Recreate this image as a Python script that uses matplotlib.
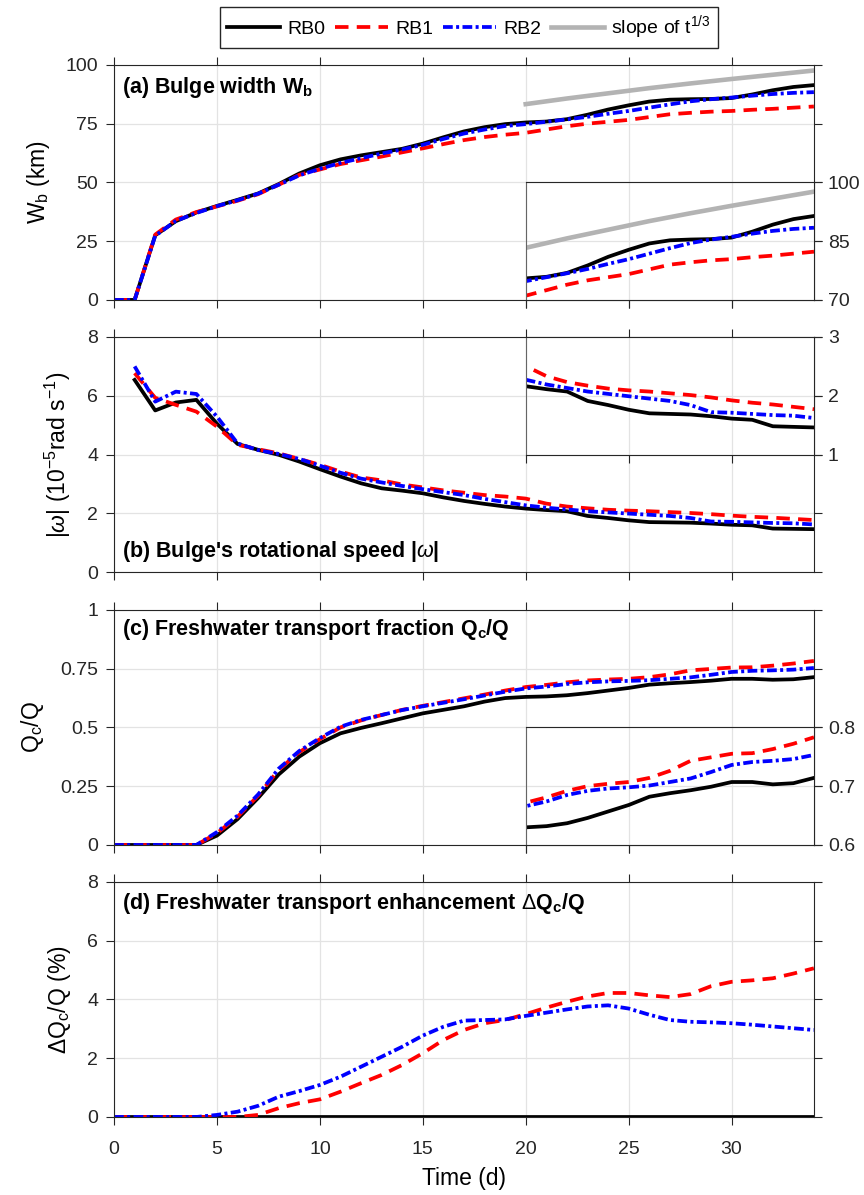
import numpy as np
import matplotlib
matplotlib.use('Agg')
import matplotlib.pyplot as plt

plt.rcParams['font.family'] = ['Liberation Sans', 'DejaVu Sans']
plt.rcParams['mathtext.fontset'] = 'custom'
plt.rcParams['mathtext.rm'] = 'Liberation Sans'
plt.rcParams['mathtext.it'] = 'Liberation Sans:italic'
plt.rcParams['mathtext.bf'] = 'Liberation Sans:bold'
plt.rcParams['axes.edgecolor'] = '#262626'
plt.rcParams['xtick.color'] = '#262626'
plt.rcParams['ytick.color'] = '#262626'

days = np.arange(0, 35)
nan = np.nan

# (a) bulge width (km)
wb_rb0 = [0, 0, 27.5, 33.5, 37.2, 40.0, 42.6, 45.3, 49.3, 53.8, 57.3, 59.8, 61.5, 62.9, 64.3, 66.5,
          69.2, 71.7, 73.5, 74.8, 75.5, 75.9, 76.9, 78.8, 81.0, 82.8, 84.4, 85.2, 85.4, 85.5, 85.9,
          87.4, 89.2, 90.6, 91.4]
wb_rb1 = [0, 0, 27.8, 34.2, 37.4, 39.8, 42.2, 45.0, 49.0, 53.2, 55.5, 57.8, 59.4, 61.0, 62.8, 64.5,
          66.3, 68.0, 69.3, 70.3, 71.1, 72.5, 73.9, 75.0, 75.8, 76.6, 77.8, 79.0, 79.6, 80.1, 80.4,
          80.9, 81.3, 81.8, 82.3]
wb_rb2 = [0, 0, 27.3, 33.6, 37.0, 39.9, 42.4, 45.2, 49.0, 53.0, 55.8, 58.3, 60.3, 62.3, 64.0, 66.0,
          68.5, 70.8, 72.5, 74.0, 74.8, 75.8, 76.8, 77.9, 79.2, 80.4, 81.8, 83.2, 84.5, 85.4, 86.1,
          86.9, 87.6, 88.1, 88.4]
slope_days = [20, 22, 24, 26, 28, 30, 32, 34]
slope_wb = [83.3, 85.7, 87.9, 90.1, 92.1, 94.0, 95.8, 97.6]

# (b) rotational speed (1e-5 rad/s)
om_rb0 = [nan, 6.54, 5.50, 5.77, 5.86, 5.05, 4.36, 4.16, 3.99, 3.76, 3.50, 3.25, 3.02, 2.85, 2.77,
          2.68, 2.54, 2.42, 2.32, 2.23, 2.16, 2.11, 2.07, 1.91, 1.84, 1.76, 1.70, 1.69, 1.68, 1.65,
          1.61, 1.59, 1.48, 1.47, 1.46]
om_rb1 = [nan, 6.77, 5.93, 5.69, 5.46, 4.95, 4.33, 4.18, 4.04, 3.85, 3.65, 3.42, 3.22, 3.12, 2.98,
          2.88, 2.78, 2.70, 2.62, 2.57, 2.50, 2.33, 2.23, 2.17, 2.12, 2.09, 2.07, 2.04, 2.01, 1.97,
          1.92, 1.88, 1.85, 1.81, 1.77]
om_rb2 = [nan, 7.00, 5.80, 6.14, 6.06, 5.29, 4.38, 4.15, 4.02, 3.85, 3.62, 3.38, 3.18, 3.05, 2.93,
          2.82, 2.72, 2.62, 2.49, 2.38, 2.27, 2.19, 2.13, 2.07, 2.03, 1.99, 1.95, 1.91, 1.84, 1.72,
          1.71, 1.69, 1.67, 1.66, 1.62]

# (c) freshwater transport fraction
qc_rb0 = [0, 0, 0, 0, 0, 0.04, 0.11, 0.20, 0.30, 0.376, 0.433, 0.475, 0.498, 0.518, 0.539, 0.560,
          0.575, 0.590, 0.610, 0.625, 0.630, 0.632, 0.637, 0.646, 0.657, 0.668, 0.682, 0.688, 0.693,
          0.699, 0.707, 0.707, 0.703, 0.705, 0.714]
qc_rb1 = [0, 0, 0, 0, 0, 0.05, 0.12, 0.21, 0.32, 0.395, 0.450, 0.500, 0.530, 0.553, 0.575, 0.592,
          0.608, 0.624, 0.640, 0.657, 0.672, 0.681, 0.692, 0.700, 0.704, 0.707, 0.714, 0.726, 0.743,
          0.749, 0.755, 0.756, 0.763, 0.772, 0.783]
qc_rb2 = [0, 0, 0, 0, 0, 0.055, 0.125, 0.215, 0.325, 0.400, 0.455, 0.503, 0.532, 0.553, 0.574, 0.590,
          0.605, 0.620, 0.636, 0.652, 0.666, 0.674, 0.685, 0.692, 0.696, 0.698, 0.701, 0.707, 0.713,
          0.724, 0.736, 0.741, 0.743, 0.746, 0.753]

# (d) freshwater transport enhancement (%)
dq_rb0 = [0] * 35
dq_rb1 = [0, 0, 0, 0, 0, 0, 0, 0.07, 0.30, 0.47, 0.60, 0.86, 1.15, 1.43, 1.77, 2.17, 2.62, 2.96, 3.19,
          3.30, 3.50, 3.72, 3.92, 4.10, 4.22, 4.22, 4.14, 4.08, 4.18, 4.45, 4.60, 4.65, 4.72, 4.88, 5.06]
dq_rb2 = [0, 0, 0, 0, 0, 0.07, 0.18, 0.38, 0.69, 0.88, 1.09, 1.37, 1.71, 2.05, 2.39, 2.77, 3.07, 3.28,
          3.30, 3.32, 3.44, 3.55, 3.66, 3.76, 3.80, 3.69, 3.48, 3.30, 3.24, 3.22, 3.19, 3.14, 3.08,
          3.02, 2.96]

runs = ['RB0', 'RB1', 'RB2']
styles = {
    'RB0': dict(color='black', linestyle='-'),
    'RB1': dict(color='#ff0000', linestyle=(0, (3.6, 2.2))),
    'RB2': dict(color='#0000ff', linestyle=(0, (2.6, 0.9, 0.8, 0.9))),
}
LW = 2.7
GRAY = '#b3b3b3'
TICK_FS = 14
LABEL_FS = 16.5
TITLE_FS = 15.5

fig = plt.figure(figsize=(8.64, 11.95), dpi=100)
L, W = 0.132, 0.810
bottoms = [0.749, 0.5213, 0.2929, 0.0653]
H = 0.1967


def style_axes(ax):
    ax.set_axisbelow(True)
    ax.grid(True, color='#e3e3e3', linewidth=0.9)
    ax.tick_params(direction='out', top=True, right=True, length=5.5, width=0.8,
                   labelsize=TICK_FS)
    ax.tick_params(axis='x', pad=12)
    ax.tick_params(axis='y', pad=6)
    for s in ax.spines.values():
        s.set_linewidth(0.8)


def draw_runs(ax, series):
    for run, y in zip(runs, series):
        ax.plot(days, y, lw=LW, label=run, **styles[run])


axes = [fig.add_axes([L, b, W, H]) for b in bottoms]

panels = [
    ((wb_rb0, wb_rb1, wb_rb2), (0, 100), [0, 25, 50, 75, 100], 'W$_\\mathrm{b}$ (km)'),
    ((om_rb0, om_rb1, om_rb2), (0, 8), [0, 2, 4, 6, 8],
     '|$\\omega$| (10$^{-5}$rad s$^{-1}$)'),
    ((qc_rb0, qc_rb1, qc_rb2), (0, 1), [0, 0.25, 0.5, 0.75, 1], 'Q$_\\mathrm{c}$/Q'),
    ((dq_rb0, dq_rb1, dq_rb2), (0, 8), [0, 2, 4, 6, 8], '$\\Delta$Q$_\\mathrm{c}$/Q (%)'),
]

for ax, (series, ylim, yt, ylab) in zip(axes, panels):
    draw_runs(ax, series)
    ax.set_xlim(0, 34)
    ax.set_ylim(*ylim)
    ax.set_yticks(yt)
    ax.set_yticklabels([f'{v:g}' for v in yt])
    ax.set_xticks([0, 5, 10, 15, 20, 25, 30])
    ax.set_ylabel(ylab, fontsize=LABEL_FS, labelpad=10)
    style_axes(ax)
    if ax is not axes[-1]:
        ax.set_xticklabels([])

axes[0].plot(slope_days, slope_wb, color=GRAY, lw=LW + 0.6, label='slope of t$^{1/3}$')
axes[-1].set_xlabel('Time (d)', fontsize=LABEL_FS, labelpad=6)

titles = [
    (0.955, '(a) Bulge width W$_\\mathbf{b}$'),
    (0.14, "(b) Bulge's rotational speed |$\\omega$|"),
    (0.968, '(c) Freshwater transport fraction Q$_\\mathbf{c}$/Q'),
    (0.962, '(d) Freshwater transport enhancement $\\Delta$Q$_\\mathbf{c}$/Q'),
]
for ax, (ty, txt) in zip(axes, titles):
    ax.text(0.012, ty, txt, fontsize=TITLE_FS, fontweight='bold', transform=ax.transAxes,
            va='top')

# zoomed insets over the last two weeks
IL, IW, IH = 0.6088, 0.3333, 0.0985
insets = [
    (0, 0.0, (70, 100), [70, 85, 100]),
    (1, 0.5, (1, 3), [1, 2, 3]),
    (2, 0.0, (0.6, 0.8), [0.6, 0.7, 0.8]),
]
for idx, frac, ylim, yt in insets:
    pos = axes[idx].get_position()
    series = panels[idx][0]
    ins = fig.add_axes([IL, pos.y0 + frac * pos.height, IW, IH])
    ins.set_facecolor('white')
    draw_runs(ins, series)
    if idx == 0:
        ins.plot(slope_days, slope_wb, color=GRAY, lw=LW + 0.6)
    ins.set_xlim(20, 34)
    ins.set_ylim(*ylim)
    ins.set_xticks([20, 25, 30])
    ins.set_xticklabels([])
    ins.set_yticks(yt)
    ins.set_yticklabels([f'{v:g}' for v in yt])
    ins.set_axisbelow(True)
    ins.grid(True, color='#e3e3e3', linewidth=0.9)
    ins.yaxis.tick_right()
    ins.tick_params(direction='out', length=5.5, width=0.8, labelsize=TICK_FS, left=False)
    ins.tick_params(axis='y', pad=4.5)
    for s in ins.spines.values():
        s.set_linewidth(0.8)
    ins.spines['left'].set_color('#666666')

handles, labels = axes[0].get_legend_handles_labels()
fig.legend(handles, labels, loc='center', bbox_to_anchor=(0.543, 0.977), ncol=4,
           frameon=True, fancybox=False, edgecolor='#262626', fontsize=14,
           handlelength=2.7, columnspacing=0.5, handletextpad=0.4, borderpad=0.35,
           framealpha=1)

fig.savefig('out.png', dpi=100)
